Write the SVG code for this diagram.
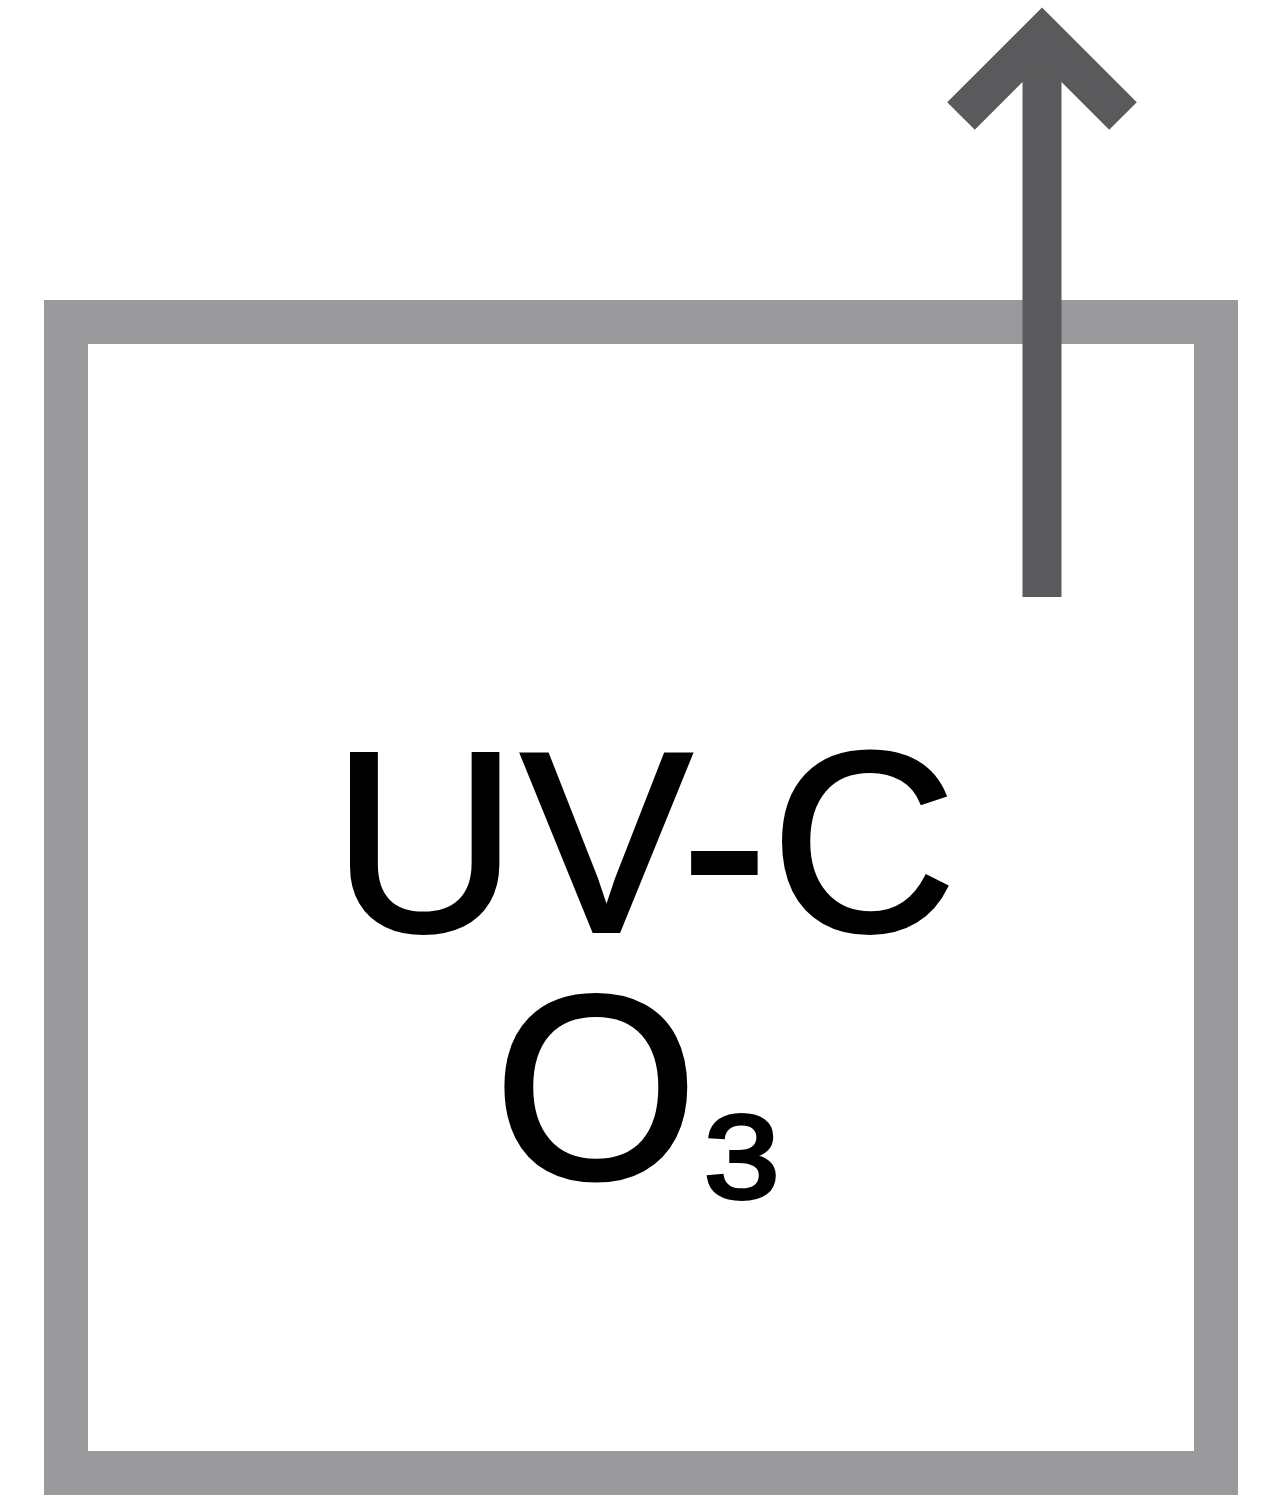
<svg xmlns="http://www.w3.org/2000/svg" width="1280" height="1500" viewBox="0 0 1280 1500">
<style>
.box{fill:#ffffff;stroke:#9a9a9c;stroke-width:44}
.arr{fill:none;stroke:#5a5a5c;stroke-width:39}
.lbl{font-family:"Liberation Sans",Arial,sans-serif;fill:#000000;stroke:#000000;stroke-width:4}
</style>
<rect width="1280" height="1500" fill="#ffffff"/>
<g id="chamber">
<rect class="box" x="66" y="322" width="1150" height="1151"/>
<text class="lbl" x="646" y="931" font-size="256" letter-spacing="4" text-anchor="middle">UV-C</text>
<text class="lbl" x="494" y="1178" font-size="262">O</text>
<text class="lbl" transform="translate(704,1198) scale(1.15,1)" x="0" y="0" font-size="118">3</text>
</g>
<g id="connectors">
<line class="arr" x1="1042" y1="597" x2="1042" y2="50"/>
<polyline class="arr" points="961,116 1042,35 1123,116" stroke-linecap="butt" stroke-linejoin="miter"/>
</g>
</svg>
